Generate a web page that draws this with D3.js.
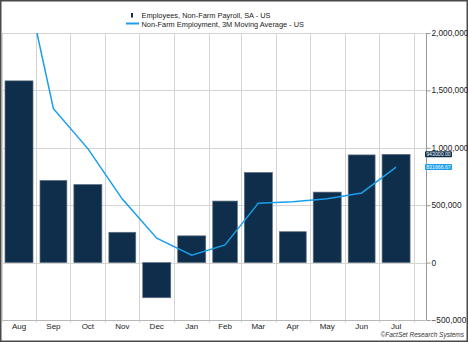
<!DOCTYPE html>
<html>
<head>
<meta charset="utf-8">
<script src="https://cdn.jsdelivr.net/npm/d3@7/dist/d3.min.js"></script>
<style>
	body { margin: 0; background: #fff; }
	svg { display: block; font-family: "Liberation Sans", Arial, sans-serif; }
</style>
</head>
<body>
<svg id="chart" width="468" height="342"></svg>
<script>
var months = ['Aug', 'Sep', 'Oct', 'Nov', 'Dec', 'Jan', 'Feb', 'Mar', 'Apr', 'May', 'Jun', 'Jul'];
var payroll = [1583000, 716000, 680000, 264000, -306000, 233000, 536000, 785000, 269000, 614000, 938000, 943000];
var movingAvg = [2718000, 1341000, 993000, 553000, 213000, 64000, 154000, 518000, 530000, 556000, 607000, 831666.67];
var yTicks = [-500000, 0, 500000, 1000000, 1500000, 2000000];
var legendLabels = ['Employees, Non-Farm Payroll, SA - US', 'Non-Farm Employment, 3M Moving Average - US'];

var barColor = '#0e2e4b', lineColor = '#1a9eea';
// note: "top" is a read-only global in browsers, so use plotTop
var plotTop = 33, plotBottom = 320, plotLeft = 2, axisX = 426;

var svg = d3.select('#chart');

var start = new Date(2020, 7, 1);
var x = d3.scaleTime()
	.domain([start, new Date(2021, 7, 12)])
	.range([1.5, axisX]);
var y = d3.scaleLinear()
	.domain([-500000, 2000000])
	.range([plotBottom, plotTop]);

var data = months.map(function (m, i) {
	var s = d3.timeMonth.offset(start, i), e = d3.timeMonth.offset(start, i + 1);
	return { month: m, s: s, e: e, bar: payroll[i], avg: movingAvg[i], cx: (x(s) + x(e)) / 2 };
});

// outer frame
svg.append('rect')
	.attr('x', 0.75).attr('y', 0.75)
	.attr('width', 466.5).attr('height', 340.5)
	.attr('fill', 'none')
	.attr('stroke', '#4a4a4a')
	.attr('stroke-width', 1.5);

// grid
var grid = svg.append('g').attr('stroke', '#d4d4d4').attr('stroke-width', 1);
grid.selectAll('line.v')
	.data(data.map(function (d) { return d.e; }))
	.enter().append('line')
	.attr('class', 'v')
	.attr('x1', function (d) { return Math.round(x(d)) + 0.5; })
	.attr('x2', function (d) { return Math.round(x(d)) + 0.5; })
	.attr('y1', plotTop).attr('y2', plotBottom + 2.5);
grid.selectAll('line.h')
	.data(yTicks)
	.enter().append('line')
	.attr('class', 'h')
	.attr('x1', plotLeft).attr('x2', axisX)
	.attr('y1', function (d) { return Math.round(y(d)) + 0.5; })
	.attr('y2', function (d) { return Math.round(y(d)) + 0.5; })
	.attr('stroke', function (d) { return d == -500000 ? '#b8b8b8' : '#d4d4d4'; });
grid.append('line')
	.attr('x1', plotLeft + 0.5).attr('x2', plotLeft + 0.5)
	.attr('y1', plotTop).attr('y2', plotBottom + 2.5);

// bars
svg.append('g')
	.selectAll('rect')
	.data(data)
	.enter().append('rect')
	.attr('x', function (d) { return x(d.s) + 3.5; })
	.attr('width', function (d) { return x(d.e) - x(d.s) - 7; })
	.attr('y', function (d) { return y(Math.max(0, d.bar)); })
	.attr('height', function (d) { return Math.abs(y(d.bar) - y(0)); })
	.attr('fill', barColor)
	.attr('stroke', '#5d6f80')
	.attr('stroke-width', 0.7);

// moving average line, clipped to plot
svg.append('clipPath').attr('id', 'plot-clip')
	.append('rect')
	.attr('x', plotLeft).attr('y', plotTop)
	.attr('width', axisX - plotLeft).attr('height', plotBottom - plotTop);

svg.append('path')
	.datum(data)
	.attr('clip-path', 'url(#plot-clip)')
	.attr('fill', 'none')
	.attr('stroke', lineColor)
	.attr('stroke-width', 1.5)
	.attr('d', d3.line()
		.x(function (d) { return d.cx; })
		.y(function (d) { return y(d.avg); }));

// right axis
var axis = svg.append('g')
	.attr('transform', 'translate(' + (axisX + 0.5) + ',0)')
	.call(d3.axisRight(y)
		.tickValues(yTicks)
		.tickSize(4)
		.tickPadding(1)
		.tickFormat(d3.format(',')));
axis.select('.domain').attr('stroke', '#999').attr('d', 'M0,' + plotTop + 'V' + plotBottom);
axis.selectAll('.tick line').attr('stroke', '#999');
axis.selectAll('.tick text')
	.attr('fill', '#222')
	.attr('dy', '0.3em')
	.style('font-size', '8.3px')
	.style('font-family', '"Liberation Sans", Arial, sans-serif');

// month labels
svg.append('g')
	.selectAll('text')
	.data(data)
	.enter().append('text')
	.attr('x', function (d) { return d.cx; })
	.attr('y', 329)
	.attr('text-anchor', 'middle')
	.attr('font-size', 8)
	.attr('fill', '#222')
	.text(function (d) { return d.month; });

// last value flags
var last = data[data.length - 1];
var flags = [
	{ v: last.bar, text: d3.format('.2f')(last.bar), fill: barColor },
	{ v: last.avg, text: d3.format('.2f')(last.avg), fill: lineColor }
];
var flag = svg.append('g')
	.selectAll('g')
	.data(flags)
	.enter().append('g')
	.attr('transform', function (d) { return 'translate(' + (axisX - 1) + ',' + y(d.v) + ')'; });
flag.append('rect')
	.attr('x', 0).attr('y', -3)
	.attr('width', 27).attr('height', 6)
	.attr('rx', 1)
	.attr('fill', function (d) { return d.fill; });
flag.append('text')
	.attr('x', 13.5).attr('y', 2)
	.attr('text-anchor', 'middle')
	.attr('font-size', 5.2)
	.attr('fill', '#fff')
	.text(function (d) { return d.text; });

// legend
var legend = svg.append('g');
legend.append('rect')
	.attr('x', 131).attr('y', 13)
	.attr('width', 2).attr('height', 4.5)
	.attr('fill', barColor);
legend.append('line')
	.attr('x1', 126).attr('x2', 139)
	.attr('y1', 23.5).attr('y2', 23.5)
	.attr('stroke', lineColor)
	.attr('stroke-width', 2);
legend.selectAll('text')
	.data(legendLabels)
	.enter().append('text')
	.attr('x', 141.5)
	.attr('y', function (d, i) { return 18 + i * 9; })
	.attr('font-size', 7.4)
	.attr('fill', '#222')
	.text(function (d) { return d; });

// source
svg.append('text')
	.attr('x', 464).attr('y', 337)
	.attr('text-anchor', 'end')
	.attr('font-size', 6.5)
	.attr('font-style', 'italic')
	.attr('fill', '#333')
	.text('\u00a9FactSet Research Systems');
</script>
</body>
</html>
